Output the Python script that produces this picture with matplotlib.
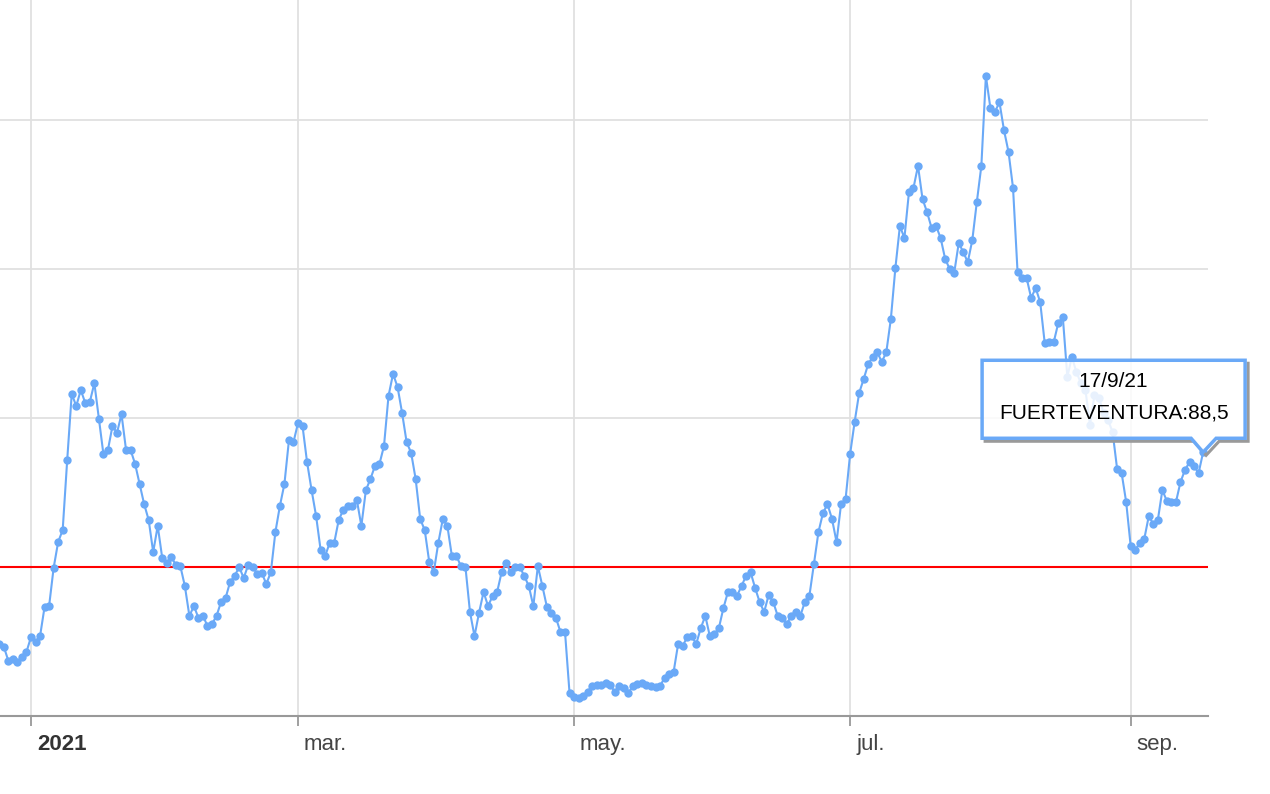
import numpy as np
import pandas as pd
import matplotlib
matplotlib.use("Agg")
import matplotlib.pyplot as plt
import matplotlib.dates as mdates
from matplotlib.patches import Polygon
from matplotlib.lines import Line2D
from matplotlib.transforms import IdentityTransform, ScaledTranslation, blended_transform_factory

# daily incidence, Fuerteventura, from 25/12/2020 to 17/9/2021
start_date = "2020-12-25"
incidence = [
    24.2, 23.2, 18.5, 19.1, 18.1, 19.8, 21.5, 26.5, 24.8, 26.8,
    36.6, 36.9, 49.7, 58.4, 62.4, 85.9, 108.1, 104.0, 109.4, 105.0,
    105.4, 111.7, 99.7, 87.9, 89.3, 97.3, 95.0, 101.3, 89.3, 89.3,
    84.6, 77.9, 71.1, 65.8, 55.0, 63.8, 53.0, 51.3, 53.4, 50.7,
    50.3, 43.6, 33.6, 36.9, 32.9, 33.6, 30.2, 30.9, 33.6, 38.3,
    39.6, 45.0, 47.0, 50.0, 46.3, 50.7, 50.0, 47.7, 48.0, 44.3,
    48.3, 61.7, 70.5, 77.9, 92.6, 91.9, 98.3, 97.3, 85.2, 75.8,
    67.1, 55.7, 53.7, 58.1, 58.1, 65.8, 69.1, 70.5, 70.5, 72.5,
    63.8, 75.8, 79.5, 83.9, 84.6, 90.6, 107.4, 114.8, 110.4, 101.7,
    91.9, 88.3, 79.5, 66.1, 62.4, 51.7, 48.3, 58.1, 66.1, 63.8,
    53.7, 53.7, 50.3, 50.0, 34.9, 26.8, 34.6, 41.6, 36.9, 40.3,
    41.6, 48.3, 51.3, 48.3, 50.0, 50.0, 47.0, 43.6, 36.9, 50.3,
    43.6, 36.6, 34.6, 32.9, 28.2, 28.2, 7.7, 6.4, 6.0, 6.7,
    8.1, 10.1, 10.4, 10.4, 11.1, 10.4, 8.1, 10.1, 9.4, 7.7,
    10.1, 10.7, 11.1, 10.4, 10.1, 9.7, 10.1, 12.8, 14.1, 14.8,
    24.2, 23.5, 26.5, 26.8, 24.2, 29.5, 33.6, 26.8, 27.5, 29.5,
    36.2, 41.6, 41.6, 40.3, 43.6, 47.0, 48.3, 43.0, 38.3, 34.9,
    40.6, 38.3, 33.6, 32.9, 30.9, 33.6, 34.9, 33.6, 38.3, 40.3,
    51.0, 61.7, 68.1, 71.1, 66.1, 58.4, 71.1, 72.8, 87.9, 98.7,
    108.4, 113.1, 118.1, 120.5, 122.1, 118.8, 122.1, 133.2, 150.3, 164.4,
    160.4, 175.8, 177.2, 184.6, 173.5, 169.1, 163.8, 164.4, 160.4, 153.4,
    150.0, 148.7, 158.7, 155.7, 152.3, 159.7, 172.5, 184.6, 214.8, 204.0,
    202.7, 206.0, 196.6, 189.3, 177.2, 149.0, 147.0, 147.0, 140.3, 143.6,
    138.9, 125.2, 125.5, 125.5, 131.9, 133.9, 113.8, 120.5, 115.4, 111.7,
    109.4, 97.7, 107.7, 106.7, 101.7, 99.3, 95.3, 82.9, 81.5, 71.8,
    57.0, 55.7, 58.1, 59.4, 67.1, 64.4, 65.8, 75.8, 72.1, 71.8,
    71.8, 78.5, 82.6, 85.2, 83.9, 81.5, 88.5,
]
threshold = 50
island = "FUERTEVENTURA"
tick_dates = ["2021-01-01", "2021-03-01", "2021-05-01", "2021-07-01", "2021-09-01"]
tick_labels = ["2021", "mar.", "may.", "jul.", "sep."]

dates = pd.date_range(start_date, periods=len(incidence), freq="D")

W, H = 1270, 794
fig = plt.figure(figsize=(W / 100, H / 100), dpi=100)
ax = fig.add_axes([0, 1 - 716 / H, 1208 / W, 716 / H])

line_col = "#6aa9f7"
ax.plot(dates, incidence, color=line_col, lw=1.5, marker="o", ms=6, mew=0, zorder=3, clip_on=False)
ax.axhline(threshold, color="#ff0000", lw=1.5, zorder=2)

# scales: 4.5255 px per day, 2.98 px per unit
jan1 = mdates.date2num(pd.Timestamp("2021-01-01"))
ax.set_xlim(jan1 - 31 / 4.5255, jan1 + (1208 - 31) / 4.5255)
ax.set_ylim(0, 716 / 2.98)

ax.set_yticks([50, 100, 150, 200])
ax.set_yticklabels([])
ax.tick_params(axis="y", length=0)
ax.set_xticks(pd.to_datetime(tick_dates))
ax.set_xticklabels([])
ax.tick_params(axis="x", length=7, width=1.3, color="#999999", direction="out")
ax.grid(True, color="#e0e0e0", lw=1.3, zorder=0)
ax.set_axisbelow(True)

for s in ["left", "right", "top"]:
    ax.spines[s].set_visible(False)
ax.spines["bottom"].set_color("#999999")
ax.spines["bottom"].set_linewidth(1.5)

trans = blended_transform_factory(ax.transData, ax.transAxes) + ScaledTranslation(6 / 100, 0, fig.dpi_scale_trans)
for d, lab in zip(pd.to_datetime(tick_dates), tick_labels):
    ax.text(d, -0.04, lab, transform=trans, ha="left", va="center",
            fontsize=16, family="Liberation Sans", color="#333333" if lab == "2021" else "#444444",
            fontweight="bold" if lab == "2021" else "normal")

# tooltip on the last point
tx, ty = ax.transData.transform((mdates.date2num(dates[-1]), incidence[-1]))
left, right = tx - 221, tx + 42
bottom, top = ty + 14, ty + 92
pts = [(left, top), (right, top), (right, bottom), (tx + 13, bottom), (tx, ty),
       (tx - 12, bottom), (left, bottom)]
# shadow only along the right and bottom edges
sh = [(right + 3, top - 3), (right + 3, bottom - 3), (tx + 16, bottom - 3), (tx + 3, ty - 3),
      (tx - 9, bottom - 3), (left + 3, bottom - 3)]
shadow = Line2D([p[0] for p in sh], [p[1] for p in sh], transform=IdentityTransform(),
                color="#9a9a9a", lw=2.2, zorder=5, solid_joinstyle="miter")
box = Polygon(pts, closed=True, transform=IdentityTransform(), facecolor=(1, 1, 1, 0.85),
              edgecolor=line_col, lw=2.5, zorder=6, joinstyle="miter")
fig.add_artist(shadow)
fig.add_artist(box)

last = dates[-1]
date_txt = f"{last.day}/{last.month}/{last.year % 100}"
val_txt = f"{island}:{incidence[-1]:.1f}".replace(".", ",")
cx = (left + right) / 2
fig.text(cx / W, (top - 21) / H, date_txt, ha="center", va="center", fontsize=15,
         family="Liberation Sans", color="black", zorder=7)
fig.text(cx / W, (top - 53) / H, val_txt, ha="center", va="center", fontsize=15,
         family="Liberation Sans", color="black", zorder=7)

fig.savefig("out.png", dpi=100)
